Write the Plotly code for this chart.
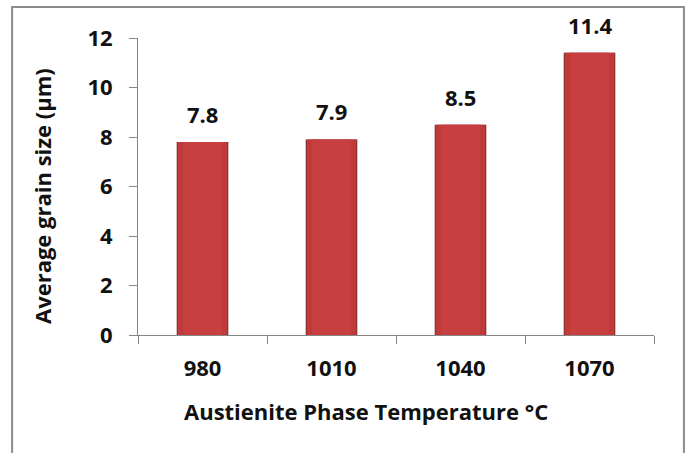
import plotly.graph_objects as go

temperatures = ["980", "1010", "1040", "1070"]
grain_size = [7.8, 7.9, 8.5, 11.4]
y_ticks = [0, 2, 4, 6, 8, 10, 12]

x_title = "Austienite Phase Temperature °C"
y_title = "Average grain size (µm)"

FONT = "Open Sans"
AXIS_GREY = "#868686"
TEXT = "#111111"

fig = go.Figure()

# Layered bars: a thin dark rim, then a slightly lighter centre strip
shades = [(0.40, "#7e2c2c"), (0.385, "#bf3a3a"), (0.30, "#c83f3f")]
for width, color in shades:
    fig.add_trace(go.Bar(
        x=temperatures, y=grain_size, width=[width] * len(temperatures),
        marker=dict(color=color, line=dict(width=0)),
        hoverinfo="skip", showlegend=False,
    ))

# value labels above each column (category axis positions are serial indices)
for i, v in enumerate(grain_size):
    fig.add_annotation(
        x=i, y=v, text=f"{v:.1f}", showarrow=False,
        yanchor="bottom", yshift=11,
        font=dict(family=FONT, size=22, color=TEXT, weight="bold"),
    )

# axis titles, placed slightly off-centre like the original layout
fig.add_annotation(
    xref="paper", yref="paper", x=0.442, y=-0.255, text=x_title,
    showarrow=False, xanchor="center", yanchor="middle",
    font=dict(family=FONT, size=22, color=TEXT, weight="bold"),
)
fig.add_annotation(
    xref="paper", yref="paper", x=-0.186, y=0.468, text=y_title,
    showarrow=False, xanchor="center", yanchor="middle", textangle=-90,
    font=dict(family=FONT, size=22, color=TEXT, weight="bold"),
)

fig.update_layout(
    width=687, height=453,
    margin=dict(l=138, r=33, t=38, b=118),
    paper_bgcolor="white", plot_bgcolor="white",
    barmode="overlay",
    font=dict(family=FONT, size=22, color=TEXT, weight="bold"),
    xaxis=dict(
        type="category", categoryorder="array", categoryarray=temperatures,
        range=[-0.5, len(temperatures) - 0.5],
        showline=True, linecolor=AXIS_GREY, linewidth=1,
        ticks="outside", ticklen=8, tickcolor=AXIS_GREY, tickson="boundaries",
        ticklabelstandoff=14,
        showgrid=False, zeroline=False, tickangle=0,
        tickfont=dict(family=FONT, size=22, weight="bold"),
    ),
    yaxis=dict(
        range=[0, 12], tickvals=y_ticks,
        showline=True, linecolor=AXIS_GREY, linewidth=1,
        ticks="outside", ticklen=8, tickcolor=AXIS_GREY,
        ticklabelstandoff=12,
        showgrid=False, zeroline=False,
        tickfont=dict(family=FONT, size=22, weight="bold"),
    ),
    shapes=[dict(
        type="rect", xref="paper", yref="paper",
        x0=-0.244, x1=1.058, y0=-0.45, y1=1.104,
        line=dict(color="#8c8c8c", width=2), fillcolor="rgba(0,0,0,0)",
        layer="below",
    )],
)

fig.write_html("out.html")
